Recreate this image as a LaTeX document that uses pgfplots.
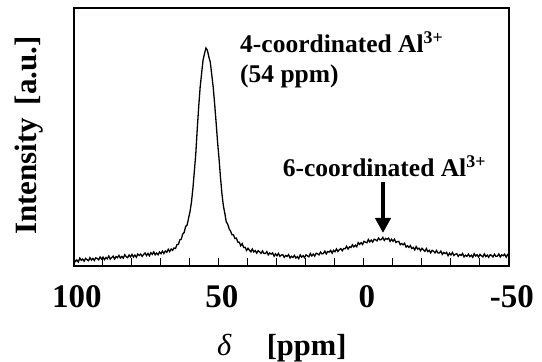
\documentclass[border=0pt]{standalone}
\usepackage{pgfplots}
\pgfplotsset{compat=1.18}
\usetikzlibrary{arrows.meta}
\usepackage{fontspec}
\setmainfont{Liberation Serif}
\begin{document}
\begin{tikzpicture}
\path[use as bounding box] (-74pt,-96pt) rectangle (468pt,266pt);
\begin{axis}[
  at={(0pt,0pt)}, anchor=south west,
  scale only axis, width=435pt, height=258pt,
  x dir=reverse, xmin=-50, xmax=100, ymin=0, ymax=258,
  xtick={-50,0,50,100}, xticklabels={-50,0,50,100},
  minor xtick={-40,-30,-20,-10,10,20,30,40,60,70,80,90},
  ytick=\empty,
  xtick pos=bottom, tick align=inside,
  major tick length=8pt, minor tick length=8pt,
  tick style={line width=1pt, black},
  axis line style={line width=2.6pt},
  xticklabel style={font=\fontsize{33}{33}\selectfont\bfseries, yshift=-16pt, xshift=3pt},
]
\addplot[black, line width=1.3pt, mark=none] table {
100.0 6.9
99.5 4.5
99.0 6.0
98.5 4.0
98.0 7.9
97.5 5.7
97.0 7.0
96.5 4.8
96.0 7.6
95.5 6.3
95.0 5.3
94.5 8.4
94.0 6.0
93.5 7.6
93.0 5.5
92.5 8.2
92.0 7.5
91.5 6.2
91.0 9.0
90.5 6.9
90.0 8.9
89.5 6.3
89.0 8.5
88.5 7.2
88.0 10.0
87.5 6.9
87.0 8.5
86.5 9.8
86.0 6.9
85.5 9.5
85.0 8.3
84.5 10.6
84.0 7.9
83.5 9.6
83.0 7.8
82.5 11.3
82.0 9.3
81.5 8.3
81.0 11.0
80.5 9.1
80.0 11.5
79.5 8.9
79.0 10.9
78.5 8.8
78.0 12.0
77.5 10.6
77.0 11.9
76.5 9.6
76.0 11.5
75.5 13.0
75.0 10.4
74.5 12.6
74.0 10.2
73.5 13.3
73.0 11.6
72.5 14.1
72.0 11.2
71.5 13.0
71.0 11.3
70.5 14.0
70.0 12.3
69.5 14.9
69.0 12.5
68.5 15.0
68.0 13.7
67.5 16.7
67.0 14.4
66.5 17.0
66.0 15.6
65.5 18.0
65.0 17.5
64.5 21.3
64.0 21.6
63.5 26.2
63.0 26.9
62.5 32.0
62.0 33.6
61.5 39.5
61.0 41.0
60.5 47.6
60.0 54.2
59.5 63.8
59.0 77.4
58.5 94.6
58.0 112.3
57.5 136.8
57.0 159.2
56.5 178.7
56.0 192.4
55.5 205.8
55.0 212.2
54.5 218.0
54.0 215.7
53.5 209.2
53.0 203.8
52.5 191.3
52.0 178.8
51.5 162.2
51.0 143.7
50.5 124.3
50.0 107.8
49.5 89.2
49.0 72.7
48.5 60.4
48.0 52.8
47.5 44.2
47.0 41.9
46.5 37.2
46.0 34.8
45.5 31.2
45.0 31.1
44.5 27.5
44.0 27.9
43.5 23.9
43.0 23.8
42.5 20.2
42.0 22.4
41.5 18.6
41.0 18.8
40.5 15.5
40.0 17.7
39.5 15.8
39.0 14.2
38.5 17.0
38.0 14.1
37.5 15.4
37.0 12.9
36.5 15.3
36.0 14.2
35.5 12.6
35.0 15.0
34.5 12.5
34.0 12.5
33.5 14.4
33.0 11.1
32.5 13.0
32.0 11.9
31.5 13.1
31.0 9.8
30.5 12.2
30.0 10.2
29.5 12.6
29.0 9.7
28.5 10.9
28.0 11.4
27.5 8.7
27.0 10.5
26.5 9.6
26.0 11.4
25.5 8.0
25.0 9.7
24.5 8.5
24.0 10.6
23.5 8.0
23.0 9.3
22.5 7.3
22.0 11.1
21.5 9.0
21.0 10.3
20.5 8.3
20.0 11.2
19.5 10.1
19.0 9.2
18.5 12.5
18.0 10.1
17.5 11.9
17.0 9.9
16.5 12.8
16.0 12.2
15.5 11.1
15.0 14.0
14.5 12.1
14.0 12.5
13.5 14.9
13.0 12.1
12.5 14.5
12.0 13.9
11.5 15.6
11.0 12.8
10.5 15.7
10.0 14.2
9.5 17.1
9.0 14.5
8.5 16.3
8.0 17.4
7.5 15.2
7.0 17.5
6.5 17.2
6.0 19.7
5.5 16.9
5.0 19.2
4.5 18.5
4.0 21.2
3.5 19.1
3.0 20.8
2.5 19.2
2.0 23.4
1.5 21.6
1.0 23.3
0.5 21.5
0.0 24.7
-0.5 23.8
-1.0 23.2
-1.5 26.5
-2.0 24.1
-2.5 25.9
-3.0 23.9
-3.5 26.8
-4.0 26.2
-4.5 25.1
-5.0 28.0
-5.5 26.1
-6.0 26.5
-6.5 28.6
-7.0 25.6
-7.5 27.6
-8.0 26.7
-8.5 27.9
-9.0 24.6
-9.5 26.8
-10.0 24.7
-10.5 26.8
-11.0 23.5
-11.5 24.4
-12.0 24.6
-12.5 21.3
-13.0 22.5
-13.5 21.2
-14.0 22.7
-14.5 18.9
-15.0 20.2
-15.5 18.6
-16.0 20.4
-16.5 17.5
-17.0 18.5
-17.5 16.1
-18.0 19.4
-18.5 16.9
-19.0 17.8
-19.5 15.3
-20.0 17.7
-20.5 16.1
-21.0 14.7
-21.5 17.4
-22.0 14.4
-22.5 15.7
-23.0 13.2
-23.5 15.7
-24.0 14.7
-24.5 13.1
-25.0 15.5
-25.5 13.1
-26.0 13.0
-26.5 14.9
-27.0 11.6
-27.5 13.5
-28.0 12.4
-28.5 13.6
-29.0 10.3
-29.5 12.8
-30.0 11.0
-30.5 13.5
-31.0 10.5
-31.5 11.8
-32.0 12.3
-32.5 9.6
-33.0 11.5
-33.5 10.6
-34.0 12.5
-34.5 9.1
-35.0 10.8
-35.5 9.7
-36.0 11.9
-36.5 9.4
-37.0 10.8
-37.5 8.7
-38.0 12.3
-38.5 10.0
-39.0 11.2
-39.5 8.9
-40.0 11.6
-40.5 10.2
-41.0 9.1
-41.5 12.1
-42.0 9.4
-42.5 10.9
-43.0 8.7
-43.5 11.3
-44.0 10.5
-44.5 9.1
-45.0 11.8
-45.5 9.6
-46.0 9.9
-46.5 12.0
-47.0 9.0
-47.5 11.1
-48.0 10.3
-48.5 11.8
-49.0 8.8
-49.5 11.4
-50.0 9.7
};
\end{axis}
% y label
\node[rotate=90, font=\fontsize{31}{31}\selectfont\bfseries, inner sep=0pt] at (-44.5pt,130.5pt) {Intensity\hspace{0.4em}[a.u.]};
% x label
\node[anchor=base west, inner sep=0pt, font=\fontsize{30.5}{30.5}\selectfont\itshape] at (143pt,-89pt) {δ};
\node[anchor=base west, inner sep=0pt, font=\fontsize{30.5}{30.5}\selectfont\bfseries] at (192.6pt,-89pt) {[ppm]};
% annotations
\node[anchor=base west, inner sep=0pt, font=\fontsize{25.5}{25.5}\selectfont\bfseries] at (166pt,213.5pt) {4-coordinated Al\textsuperscript{3+}};
\node[anchor=base west, inner sep=0pt, font=\fontsize{25.5}{25.5}\selectfont\bfseries] at (166pt,183pt) {(54 ppm)};
\node[anchor=base west, inner sep=0pt, font=\fontsize{25.5}{25.5}\selectfont\bfseries] at (208.7pt,89.5pt) {6-coordinated Al\textsuperscript{3+}};
\draw[line width=4pt, -{Triangle[length=15pt,width=15pt]}] (309pt,84pt) -- (309pt,33pt);
\end{tikzpicture}
\end{document}
